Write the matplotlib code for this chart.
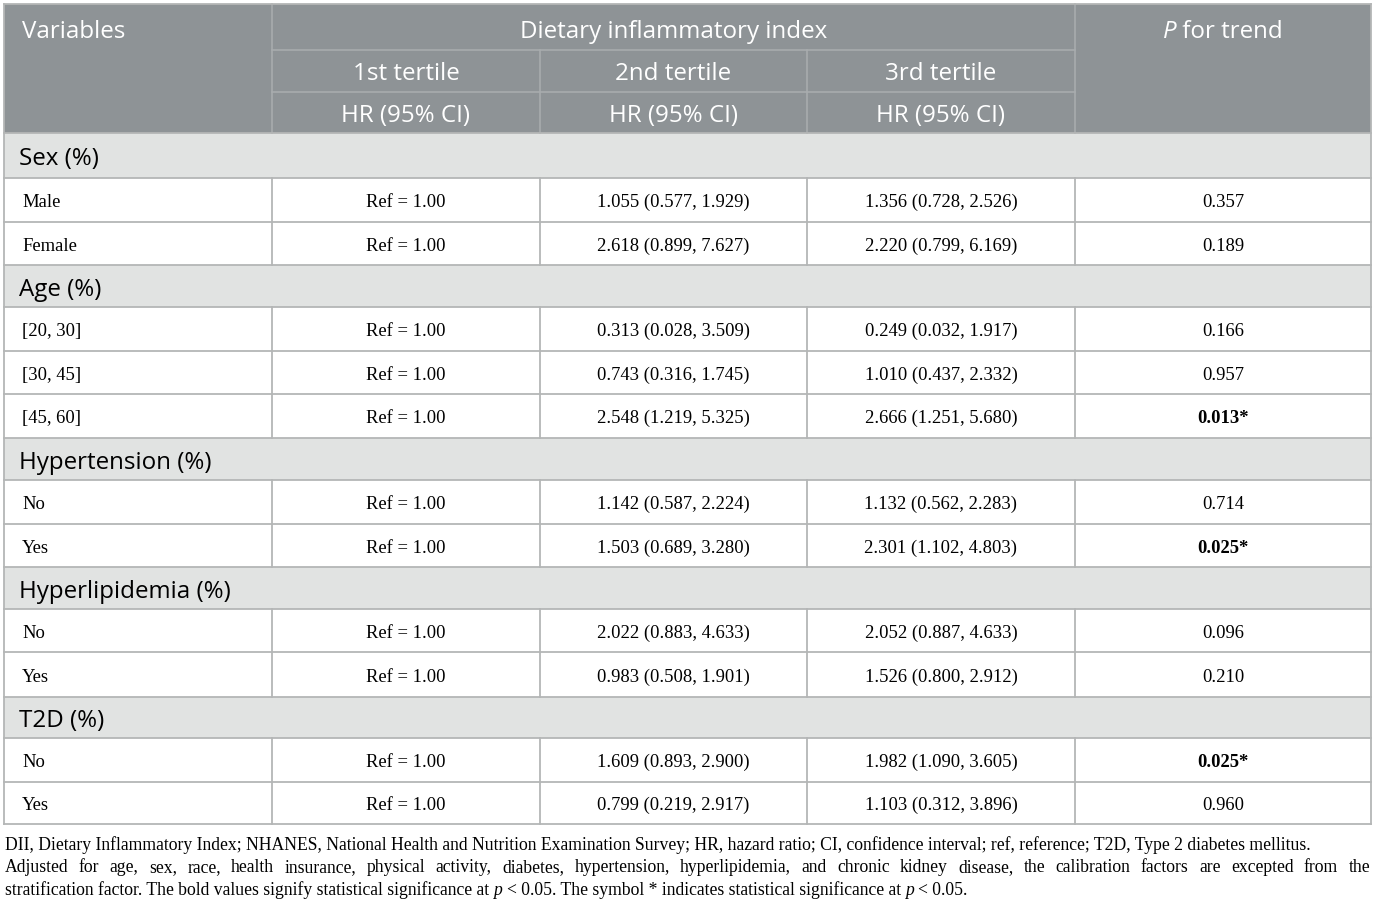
import matplotlib
matplotlib.use("Agg")
import matplotlib.pyplot as plt
from matplotlib.patches import Rectangle

# ---------------- data ----------------
groups = ["Sex (%)", "Age (%)", "Hypertension (%)", "Hyperlipidemia (%)", "T2D (%)"]
subgroups = [["Male", "Female"],
             ["[20, 30]", "[30, 45]", "[45, 60]"],
             ["No", "Yes"],
             ["No", "Yes"],
             ["No", "Yes"]]
tertile1 = ["Ref = 1.00"] * 11
tertile2 = ["1.055 (0.577, 1.929)", "2.618 (0.899, 7.627)",
            "0.313 (0.028, 3.509)", "0.743 (0.316, 1.745)", "2.548 (1.219, 5.325)",
            "1.142 (0.587, 2.224)", "1.503 (0.689, 3.280)",
            "2.022 (0.883, 4.633)", "0.983 (0.508, 1.901)",
            "1.609 (0.893, 2.900)", "0.799 (0.219, 2.917)"]
tertile3 = ["1.356 (0.728, 2.526)", "2.220 (0.799, 6.169)",
            "0.249 (0.032, 1.917)", "1.010 (0.437, 2.332)", "2.666 (1.251, 5.680)",
            "1.132 (0.562, 2.283)", "2.301 (1.102, 4.803)",
            "2.052 (0.887, 4.633)", "1.526 (0.800, 2.912)",
            "1.982 (1.090, 3.605)", "1.103 (0.312, 3.896)"]
p_trend = ["0.357", "0.189", "0.166", "0.957", "0.013*", "0.714", "0.025*",
           "0.096", "0.210", "0.025*", "0.960"]
p_bold = [False, False, False, False, True, False, True, False, False, True, False]

header_top = "Dietary inflammatory index"
tertile_labels = ["1st tertile", "2nd tertile", "3rd tertile"]
hr_label = "HR (95% CI)"

foot1 = ("DII, Dietary Inflammatory Index; NHANES, National Health and Nutrition Examination "
         "Survey; HR, hazard ratio; CI, confidence interval; ref, reference; T2D, Type 2 diabetes mellitus.")
foot2 = ("Adjusted for age, sex, race, health insurance, physical activity, diabetes, hypertension, "
         "hyperlipidemia, and chronic kidney disease, the calibration factors are excepted from the")
foot3_parts = [("stratification factor. The bold values signify statistical significance at", "n"),
               ("p", "i"), ("< 0.05. The symbol * indicates statistical significance at", "n"),
               ("p", "i"), ("< 0.05.", "n")]

# ---------------- layout ----------------
W, H = 1375, 905
fig = plt.figure(figsize=(W / 100, H / 100), dpi=100)
ax = fig.add_axes([0, 0, 1, 1])
ax.set_xlim(0, W)
ax.set_ylim(H, 0)
ax.axis("off")

X0, X1 = 4, 1371
cols = [X0, 272, 540, 807, 1075, X1]
hdr_y = [4, 50, 92, 133]
body_y = [133, 178, 222, 265, 307, 351, 394, 438, 480, 524, 567, 609, 652, 697, 738, 782, 824]

HDR_BG = "#8E9396"
HDR_LINE = "#A8ACAE"
GRP_BG = "#E1E3E2"
GRID = "#B4B6B6"
SANS = "Open Sans"
SERIF = "Liberation Serif"
HFS = 17.4
BFS = 13.4
FFS = 12.7

renderer = fig.canvas.get_renderer()


def text_width(s, **kw):
    t = ax.text(0, 0, s, **kw)
    w = t.get_window_extent(renderer).width
    t.remove()
    return w


def draw_runs(x, y, runs, ha="left", color="black"):
    widths = [text_width(s, **p) for s, p in runs]
    total = sum(widths)
    if ha == "center":
        x = x - total / 2
    for (s, p), w in zip(runs, widths):
        ax.text(x, y, s, ha="left", va="center", color=color, **p)
        x += w


# header background
ax.add_patch(Rectangle((X0, hdr_y[0]), X1 - X0, hdr_y[-1] - hdr_y[0],
                       facecolor=HDR_BG, edgecolor="none", zorder=0))
for yy in hdr_y[1:3]:
    ax.plot([cols[1], cols[4]], [yy, yy], color=HDR_LINE, lw=1.2, zorder=2)
for xx in [cols[1], cols[4]]:
    ax.plot([xx, xx], [hdr_y[0], hdr_y[-1]], color=HDR_LINE, lw=1.2, zorder=2)
for xx in cols[2:4]:
    ax.plot([xx, xx], [hdr_y[1], hdr_y[-1]], color=HDR_LINE, lw=1.2, zorder=2)

hkw = dict(family=SANS, fontsize=HFS, color="white")
r1 = (hdr_y[0] + hdr_y[1]) / 2 + 4.5
r2 = (hdr_y[1] + hdr_y[2]) / 2 + 3
r3 = (hdr_y[2] + hdr_y[3]) / 2 + 3
ax.text(22, r1, "Variables", ha="left", va="center", **hkw)
ax.text((cols[1] + cols[4]) / 2, r1, header_top, ha="center", va="center", **hkw)
draw_runs((cols[4] + cols[5]) / 2, r1,
          [("P", dict(family=SANS, fontsize=HFS, style="italic")),
           (" for trend", dict(family=SANS, fontsize=HFS))],
          ha="center", color="white")
for i, lab in enumerate(tertile_labels):
    cx = (cols[i + 1] + cols[i + 2]) / 2
    ax.text(cx, r2, lab, ha="center", va="center", **hkw)
    ax.text(cx, r3, hr_label, ha="center", va="center", **hkw)

# body
row = 0
data_i = 0
for g, subs in zip(groups, subgroups):
    y0, y1 = body_y[row], body_y[row + 1]
    ax.add_patch(Rectangle((X0, y0), X1 - X0, y1 - y0, facecolor=GRP_BG,
                           edgecolor="none", zorder=0))
    ax.text(19, (y0 + y1) / 2 + 3.5, g, ha="left", va="center", family=SANS,
            fontsize=HFS, color="black")
    row += 1
    for s in subs:
        y0, y1 = body_y[row], body_y[row + 1]
        yc = (y0 + y1) / 2 + 2.5
        bkw = dict(family=SERIF, fontsize=BFS, color="black", va="center")
        ax.text(22, yc, s, ha="left", **bkw)
        ax.text((cols[1] + cols[2]) / 2, yc, tertile1[data_i], ha="center", **bkw)
        ax.text((cols[2] + cols[3]) / 2, yc, tertile2[data_i], ha="center", **bkw)
        ax.text((cols[3] + cols[4]) / 2, yc, tertile3[data_i], ha="center", **bkw)
        ax.text((cols[4] + cols[5]) / 2, yc, p_trend[data_i], ha="center",
                weight="bold" if p_bold[data_i] else "normal", **bkw)
        for xx in cols[1:5]:
            ax.plot([xx, xx], [y0, y1], color=GRID, lw=1.3, zorder=2)
        row += 1
        data_i += 1

for yy in body_y:
    ax.plot([X0, X1], [yy, yy], color=GRID, lw=1.3, zorder=2)
ax.plot([X0, X0], [hdr_y[0], body_y[-1]], color=GRID, lw=1.3, zorder=3)
ax.plot([X1, X1], [hdr_y[0], body_y[-1]], color=GRID, lw=1.3, zorder=3)
ax.plot([X0, X1], [hdr_y[0], hdr_y[0]], color=GRID, lw=1.3, zorder=3)

# footnotes
fkw = dict(family=SERIF, fontsize=FFS)
FX0, FX1 = 5, 1370
ax.text(FX0, 845, foot1, ha="left", va="center", color="black", **fkw)

words = foot2.split(" ")
ww = [text_width(w, **fkw) for w in words]
gap = (FX1 - FX0 - sum(ww)) / (len(words) - 1)
x = FX0
for w, wd in zip(words, ww):
    ax.text(x, 867.5, w, ha="left", va="center", color="black", **fkw)
    x += wd + gap

space = text_width("a a", **fkw) - text_width("aa", **fkw)
x = FX0
for s, st in foot3_parts:
    kw = dict(fkw)
    if st == "i":
        kw["style"] = "italic"
    ax.text(x, 890, s, ha="left", va="center", color="black", **kw)
    x += text_width(s, **kw) + space

fig.savefig("out.png", dpi=100)
